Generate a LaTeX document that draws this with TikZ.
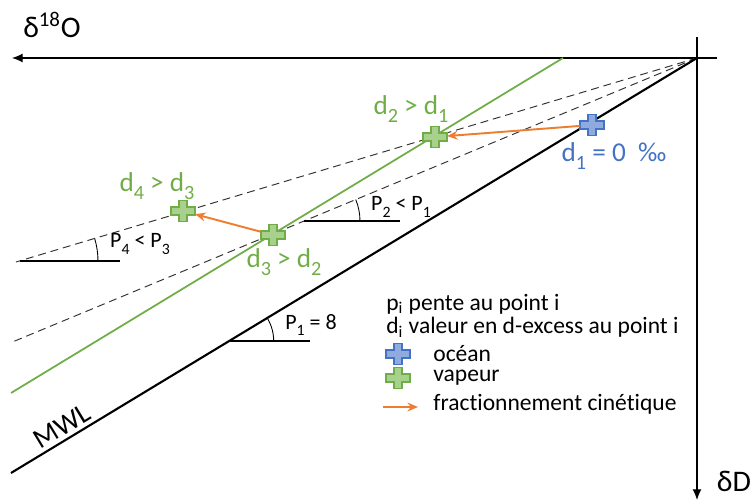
\documentclass[tikz,border=0pt]{standalone}
\usepackage{fontspec}
\setmainfont{Carlito}[Ligatures={NoCommon,NoContextual}]
\usetikzlibrary{arrows.meta}
\definecolor{cblue}{HTML}{4472C4}
\definecolor{cbluef}{HTML}{8FAADC}
\definecolor{cgreen}{HTML}{70AD47}
\definecolor{cgreenf}{HTML}{A9D18E}
\definecolor{corange}{HTML}{ED7D31}
\newcommand{\lsub}[1]{\raisebox{-0.28em}{\fontsize{11.5}{12}\selectfont #1}}
\newcommand{\psub}[1]{\raisebox{-0.28em}{\fontsize{9}{10}\selectfont #1}}
\tikzset{
  axis/.style={line width=0.6pt, -{Latex[length=6pt,width=5pt]}},
  mwl/.style={line width=1.2pt},
  gline/.style={cgreen, line width=1pt},
  dline/.style={line width=0.55pt, dash pattern=on 4.5pt off 2.8pt, black!80},
  refline/.style={line width=0.6pt},
  kin/.style={corange, line width=1.1pt, -{Stealth[length=6pt,width=5pt]}},
  crossbox/.style={minimum width=0.48cm, minimum height=0.42cm, inner sep=0pt, outer sep=0pt},
  glab/.style={text=cgreen, font=\fontsize{15.5}{17}\selectfont, inner sep=0pt},
  blab/.style={text=cblue, font=\fontsize{15.5}{17}\selectfont, inner sep=0pt},
  plab/.style={font=\fontsize{12.5}{14}\selectfont, inner sep=0pt},
  leg/.style={font=\fontsize{13.4}{15}\selectfont, inner sep=0pt, anchor=west},
  axlab/.style={font=\fontsize{17}{19}\selectfont, inner sep=0pt},
  pics/plus/.style={code={
    \filldraw[line width=0.6pt, draw=#1, fill=#1f]
      (-4,-10.5) -- (4,-10.5) -- (4,-4) -- (12,-4) -- (12,4) -- (4,4) -- (4,10.5)
      -- (-4,10.5) -- (-4,4) -- (-12,4) -- (-12,-4) -- (-4,-4) -- cycle;
  }}
}
\begin{document}
\begin{tikzpicture}[x=0.02cm, y=-0.02cm]
\useasboundingbox (0,0) rectangle (752,502);
% axes
\coordinate (O) at (697,58);
\coordinate (xl) at (12,58);
\coordinate (xr) at (717,58);
\coordinate (yt) at (697,37);
\coordinate (yb) at (697,500);
\draw[axis] (xr) -- (xl);
\draw[axis] (yt) -- (yb);
\node[axlab] (lo) at (52,25) {δ\textsuperscript{18}O};
\node[axlab] (ld) at (734,481) {δD};
% lines
\coordinate (mwlend) at (11,473);
\coordinate (gtop) at (563,58);
\coordinate (gend) at (11,393);
\coordinate (dupend) at (16,262);
\coordinate (dloend) at (10,343);
\draw[dline] (O) -- (dupend);
\draw[dline] (O) -- (dloend);
\draw[gline] (gtop) -- (gend);
\draw[mwl] (O) -- (mwlend);
\node[rotate=31.2, font=\fontsize{16}{18}\selectfont, inner sep=0pt] (mwl) at (62,426) {MWL};
% angles
\coordinate (a1) at (229.7,341);
\coordinate (a1e) at (310,341);
\draw[refline] (a1) -- (a1e);
\draw[line width=0.5pt] (a1) ++(0:0.88cm) arc[start angle=0, end angle=31.2, radius=0.88cm];
\node[plab] (p1) at (311,325) {P\psub{1} = 8};
\coordinate (a2) at (304,221);
\coordinate (a2e) at (400,221);
\draw[refline] (a2) -- (a2e);
\draw[line width=0.5pt] (a2) ++(0:1.12cm) arc[start angle=0, end angle=22.5, radius=1.12cm];
\node[plab] (p2) at (401,207) {P\psub{2} < P\psub{1}};
\coordinate (a4) at (20,261);
\coordinate (a4e) at (120,261);
\draw[refline] (a4) -- (a4e);
\draw[line width=0.5pt] (a4) ++(0:1.56cm) arc[start angle=0, end angle=16.7, radius=1.56cm];
\node[plab] (p4) at (140,244) {P\psub{4} < P\psub{3}};
% crosses
\node[crossbox] (c1) at (592,125) {};
\node[crossbox] (c2) at (435,137) {};
\node[crossbox] (c3) at (273,235) {};
\node[crossbox] (c4) at (183,211) {};
\pic at (c1) {plus=cblue};
\pic at (c2) {plus=cgreen};
\pic at (c3) {plus=cgreen};
\pic at (c4) {plus=cgreen};
\draw[kin] (c1) -- (c2);
\draw[kin] (c3) -- (c4);
% labels
\node[glab] (l2) at (411,109) {d\lsub{2} > d\lsub{1}};
\node[blab] (l1) at (614,156) {d\lsub{1} = 0 \ ‰};
\node[glab] (l4) at (157,186) {d\lsub{4} > d\lsub{3}};
\node[glab] (l3) at (284,262) {d\lsub{3} > d\lsub{2}};
% legend
\node[leg] (g1) at (386,304) {p\textsubscript{i} pente au point i};
\node[leg] (g2) at (386,327) {d\textsubscript{i} valeur en d-excess au point i};
\node[crossbox] (lc1) at (398,354) {};
\node[crossbox] (lc2) at (398,378) {};
\pic at (lc1) {plus=cblue};
\pic at (lc2) {plus=cgreen};
\node[leg] (g3) at (433,354) {océan};
\node[leg] (g4) at (433,378) {vapeur};
\coordinate (la1) at (383,407);
\coordinate (la2) at (418,407);
\draw[kin] (la1) -- (la2);
\node[leg] (g5) at (433,404) {fractionnement cinétique};
\end{tikzpicture}
\end{document}
